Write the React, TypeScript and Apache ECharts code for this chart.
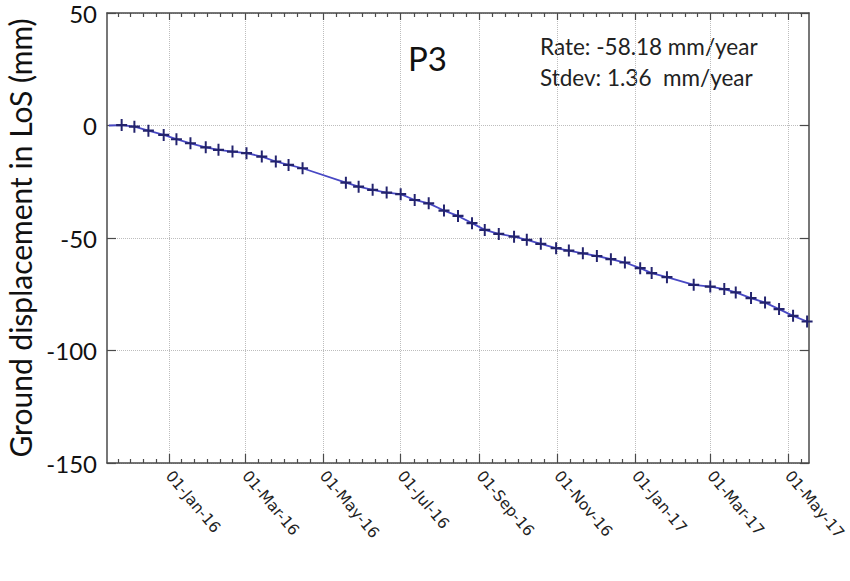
import React, { useEffect, useRef } from 'react';
import * as echarts from 'echarts';

// Acquisition dates and LoS displacement (mm)
const dates = [
  '2015-11-15', '2015-11-25', '2015-12-05', '2015-12-16', '2015-12-28',
  '2016-01-07', '2016-01-18', '2016-01-30', '2016-02-09', '2016-02-20',
  '2016-03-02', '2016-03-14', '2016-03-25', '2016-04-04', '2016-04-15',
  '2016-05-19', '2016-05-29', '2016-06-09', '2016-06-20', '2016-07-01',
  '2016-07-12', '2016-07-23', '2016-08-04', '2016-08-15', '2016-08-26',
  '2016-09-05', '2016-09-16', '2016-09-28', '2016-10-08', '2016-10-19',
  '2016-10-31', '2016-11-10', '2016-11-21', '2016-12-02', '2016-12-13',
  '2016-12-24', '2017-01-05', '2017-01-14', '2017-01-26', '2017-02-16',
  '2017-03-01', '2017-03-12', '2017-03-21', '2017-04-02', '2017-04-13',
  '2017-04-24', '2017-05-05', '2017-05-16',
];
const displacement = [
  0, 0.2, -0.5, -2.3, -4.2,
  -6.1, -7.9, -9.7, -10.8, -11.6,
  -12.3, -13.8, -16.0, -17.5, -19.0,
  -25.4, -27.2, -28.6, -29.8, -30.5,
  -33.1, -34.6, -37.8, -40.2, -43.4,
  -46.4, -48.2, -49.4, -50.8, -52.6,
  -54.5, -55.6, -56.8, -58.0, -59.4,
  -60.9, -63.4, -65.6, -67.4, -70.8,
  -71.6, -72.7, -74.2, -76.7, -78.7,
  -81.6, -84.6, -87.1,
];
const majorTickDates = [
  '2016-01-01', '2016-03-01', '2016-05-01', '2016-07-01', '2016-09-01',
  '2016-11-01', '2017-01-01', '2017-03-01', '2017-05-01',
];
const xRangeDates = ['2015-11-13T12', '2017-05-17T12'];
const yTicks = [-150, -100, -50, 0, 50];
const monthNames = ['Jan', 'Feb', 'Mar', 'Apr', 'May', 'Jun', 'Jul', 'Aug', 'Sep', 'Oct', 'Nov', 'Dec'];
const yAxisTitle = 'Ground displacement in LoS (mm)';
const pointTitle = 'P3';
const rateText = 'Rate: -58.18 mm/year';
const stdevText = 'Stdev: 1.36  mm/year';

function toTs(s: string): number {
  const [datePart, hourPart] = s.split('T');
  const [y, m, d] = datePart.split('-').map(Number);
  return Date.UTC(y, m - 1, d, hourPart ? Number(hourPart) : 0);
}

function fmtDate(v: number): string {
  const d = new Date(v);
  const dd = String(d.getUTCDate()).padStart(2, '0');
  return `${dd}-${monthNames[d.getUTCMonth()]}-${String(d.getUTCFullYear()).slice(2)}`;
}

export default function App() {
  const ref = useRef<HTMLDivElement>(null);

  useEffect(() => {
    if (!ref.current) return;
    const chart = echarts.init(ref.current, undefined, { renderer: 'svg' });

    const xMin = toTs(xRangeDates[0]);
    const xMax = toTs(xRangeDates[1]);
    const majors = majorTickDates.map(toTs);
    const minors: number[] = [];
    const sub = 6;
    {
      const step0 = (majors[1] - majors[0]) / sub;
      for (let t = majors[0] - step0; t > xMin; t -= step0) minors.push(t);
      for (let i = 0; i < majors.length - 1; i++) {
        const st = (majors[i + 1] - majors[i]) / sub;
        for (let k = 1; k < sub; k++) minors.push(majors[i] + k * st);
      }
      const n = majors.length;
      const stN = (majors[n - 1] - majors[n - 2]) / sub;
      for (let t = majors[n - 1] + stN; t < xMax; t += stN) minors.push(t);
    }

    const frame = { show: true, onZero: false, lineStyle: { color: '#4a4a4a', width: 1.5 } };
    const noLine = { show: false, onZero: false };
    const tickStyle = { color: '#4a4a4a', width: 1.2 };
    const grid = { type: 'dotted' as const, color: '#bdbdbd', width: 1 };

    const baseX = { type: 'value' as const, min: xMin, max: xMax, gridIndex: 0 };

    const plusPath = 'path://M4.1,0H5.9V4.1H10V5.9H5.9V10H4.1V5.9H0V4.1H4.1Z';

    const data = dates.map((d, i) =>
      i === 0
        ? { value: [toTs(d), displacement[i]], symbol: 'none' }
        : { value: [toTs(d), displacement[i]] }
    );

    chart.setOption({
      animation: false,
      backgroundColor: '#ffffff',
      grid: {
        left: 107,
        right: 41,
        top: 13,
        bottom: 118,
        containLabel: false,
        outerBoundsMode: 'none',
      },
      xAxis: [
        {
          ...baseX,
          position: 'bottom',
          axisLine: frame,
          axisTick: { show: true, inside: true, length: 9, lineStyle: tickStyle, customValues: majors },
          axisLabel: {
            show: true,
            customValues: majors,
            rotate: -50,
            margin: 10,
            fontFamily: 'DejaVu Sans',
            fontSize: 15.5,
            color: '#222',
            formatter: (v: number) => fmtDate(v),
          },
          splitLine: { show: true, lineStyle: grid },
        },
        {
          ...baseX,
          position: 'bottom',
          axisLine: noLine,
          axisTick: { show: true, inside: true, length: 4, lineStyle: tickStyle, customValues: minors },
          axisLabel: { show: false },
          splitLine: { show: false },
        },
        {
          ...baseX,
          position: 'top',
          axisLine: frame,
          axisTick: { show: true, inside: true, length: 7, lineStyle: tickStyle, customValues: majors },
          axisLabel: { show: false },
          splitLine: { show: false },
        },
        {
          ...baseX,
          position: 'top',
          axisLine: noLine,
          axisTick: { show: true, inside: true, length: 4, lineStyle: tickStyle, customValues: minors },
          axisLabel: { show: false },
          splitLine: { show: false },
        },
      ],
      yAxis: [
        {
          type: 'value',
          position: 'left',
          min: yTicks[0],
          max: yTicks[yTicks.length - 1],
          interval: 50,
          axisLine: frame,
          axisTick: { show: true, inside: true, length: 9, lineStyle: tickStyle },
          axisLabel: { show: true, margin: 10, fontFamily: 'Lato', fontSize: 24, color: '#111' },
          splitLine: { show: true, lineStyle: grid },
          name: yAxisTitle,
          nameLocation: 'middle',
          nameGap: 65,
          nameTextStyle: { fontFamily: 'Lato', fontSize: 30, color: '#111' },
        },
        {
          type: 'value',
          position: 'right',
          min: yTicks[0],
          max: yTicks[yTicks.length - 1],
          interval: 50,
          axisLine: frame,
          axisTick: { show: true, inside: true, length: 9, lineStyle: tickStyle },
          axisLabel: { show: false },
          splitLine: { show: false },
        },
      ],
      graphic: [
        {
          type: 'text',
          x: 408,
          y: 58,
          style: { text: pointTitle, font: '33px Lato', fill: '#111', verticalAlign: 'middle' },
        },
        {
          type: 'text',
          x: 540,
          y: 46,
          style: { text: rateText, font: '22.5px Lato', fill: '#222', verticalAlign: 'middle' },
        },
        {
          type: 'text',
          x: 540,
          y: 77,
          style: { text: stdevText, font: '22.5px Lato', fill: '#222', verticalAlign: 'middle' },
        },
      ],
      series: [
        {
          type: 'line',
          xAxisIndex: 0,
          yAxisIndex: 0,
          data,
          symbol: plusPath,
          symbolSize: [11, 12],
          showAllSymbol: true,
          itemStyle: { color: '#23236e' },
          lineStyle: { color: '#4848c4', width: 1.8 },
          z: 5,
        },
      ],
    });

    return () => chart.dispose();
  }, []);

  return (
    <div
      ref={ref}
      style={{ position: 'fixed', left: 0, top: 0, width: 850, height: 581, background: '#fff' }}
    />
  );
}
